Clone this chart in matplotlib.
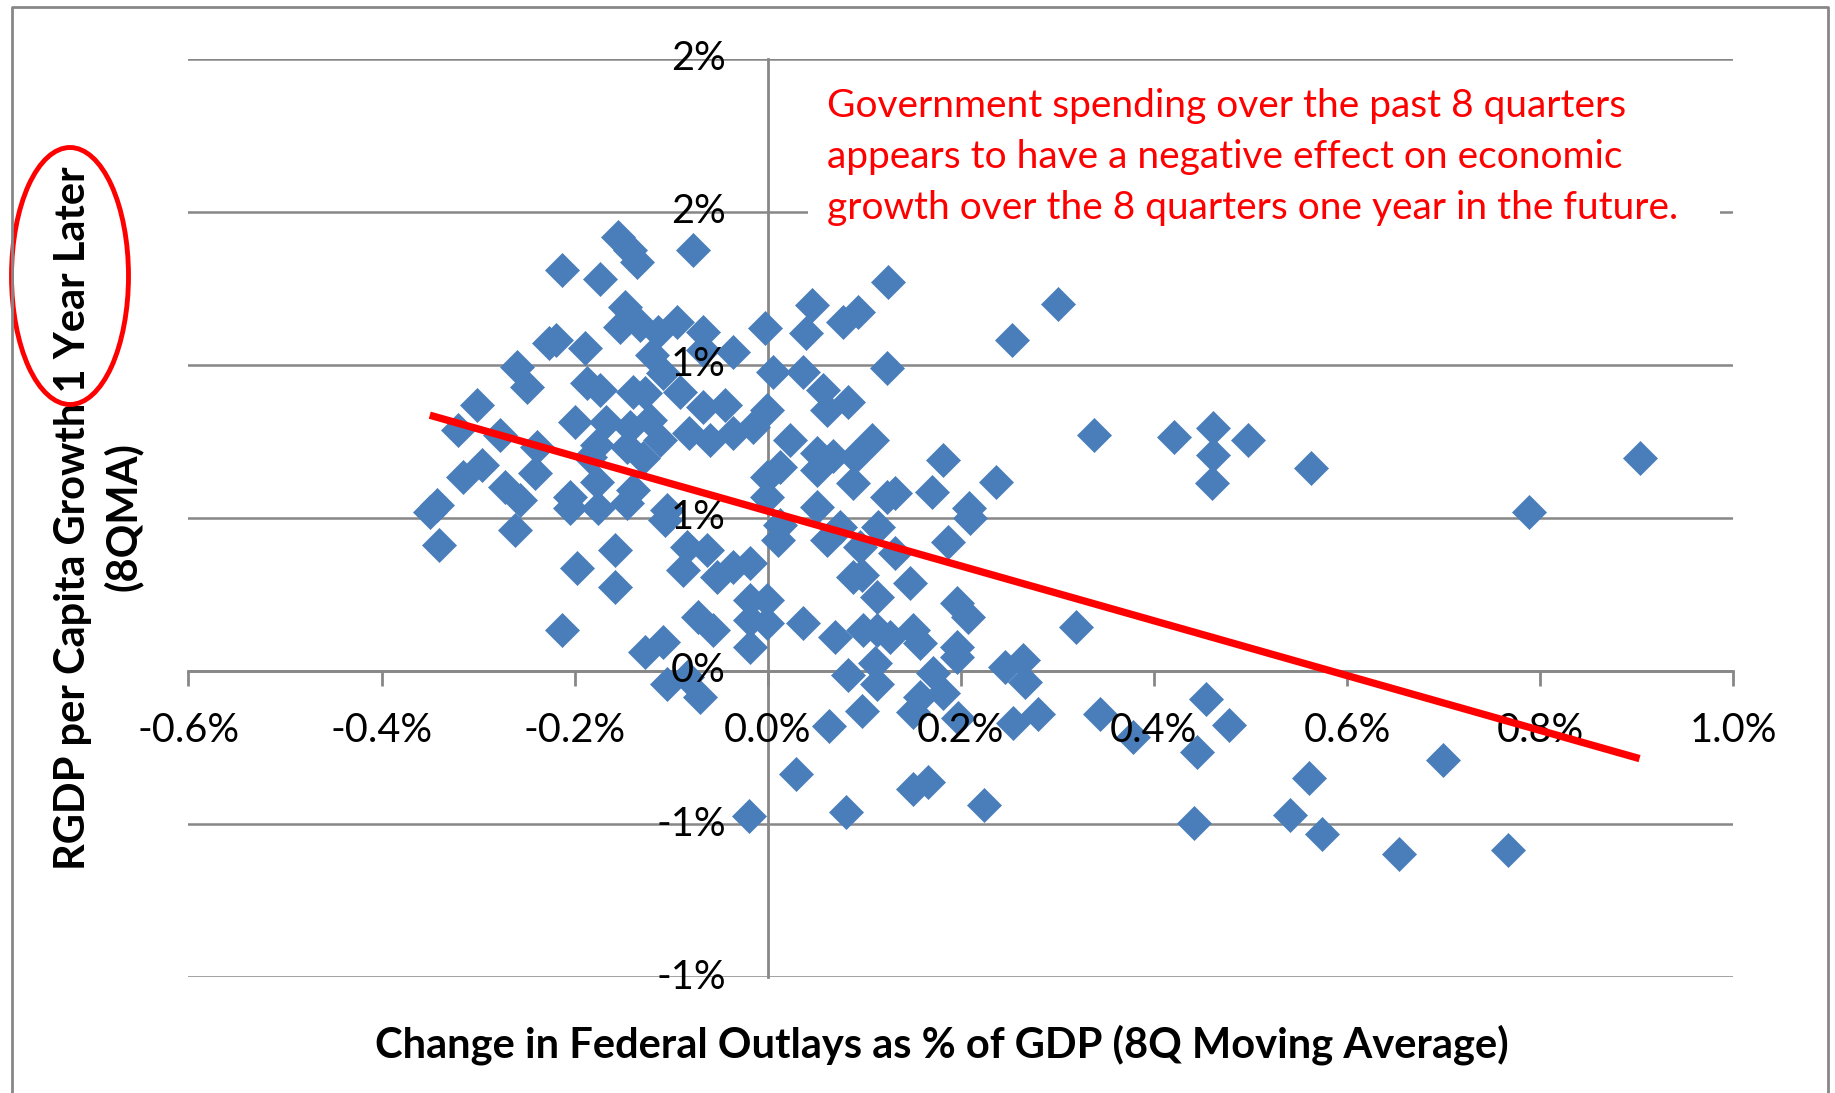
import numpy as np
import matplotlib
matplotlib.use('Agg')
import matplotlib.pyplot as plt
from matplotlib.patches import Ellipse, Rectangle
from matplotlib.lines import Line2D

# ---- data (percent units) ----
x_vals = [-0.155, -0.143, -0.135, -0.077, -0.213, -0.174, -0.148, -0.153, -0.132, -0.114,
          -0.094, -0.067, -0.120, -0.067, -0.226, -0.219, -0.189, -0.260, -0.249, -0.108,
          -0.091, -0.187, -0.174, -0.140, -0.127, -0.301, -0.321, -0.277, -0.239, -0.200,
          -0.167, -0.143, -0.122, -0.067, -0.177, -0.146, -0.112, -0.081, -0.060, -0.296,
          -0.316, -0.241, -0.272, -0.257, -0.342, -0.350, -0.340, -0.262, -0.205, -0.205,
          -0.177, -0.176, -0.184, -0.146, -0.140, -0.129, -0.104, -0.106, -0.084, -0.063,
          -0.088, -0.158, -0.198, -0.158, -0.213, -0.072, -0.057, -0.108, -0.127, -0.104,
          -0.084, -0.070, -0.053, 0.125, 0.046, 0.094, 0.078, -0.003, 0.040, 0.253,
          -0.036, 0.005, 0.037, 0.057, 0.083, 0.061, 0.124, -0.001, -0.044, -0.015,
          -0.036, 0.023, 0.108, 0.182, 0.051, 0.068, 0.090, 0.236, 0.170, 0.208,
          0.210, 0.187, 0.124, 0.132, 0.114, 0.132, 0.147, 0.088, 0.098, 0.113,
          0.196, 0.207, 0.151, 0.158, 0.196, 0.196, 0.113, 0.099, 0.127, 0.070,
          0.037, -0.001, -0.018, -0.001, -0.018, -0.018, 0.111, 0.083, 0.113, 0.171,
          0.246, 0.158, 0.182, -0.036, -0.018, 0.011, 0.013, -0.001, -0.001, 0.013,
          0.051, 0.088, 0.051, 0.061, 0.096, 0.075, 0.301, 0.338, 0.421, 0.461,
          0.497, 0.461, 0.460, 0.563, 0.789, 0.903, 0.344, 0.378, 0.454, 0.478,
          0.445, 0.561, 0.442, 0.541, 0.574, 0.654, 0.699, 0.767, 0.064, 0.098,
          0.029, -0.019, 0.081, 0.150, 0.166, 0.224, 0.151, 0.197, 0.254, 0.280,
          0.267, 0.264, 0.319]
y_vals = [1.417, 1.374, 1.335, 1.374, 1.309, 1.280, 1.188, 1.123, 1.129, 1.107,
          1.139, 1.107, 1.031, 1.048, 1.071, 1.080, 1.054, 0.992, 0.927, 0.973,
          0.910, 0.940, 0.917, 0.910, 0.907, 0.868, 0.786, 0.770, 0.731, 0.812,
          0.812, 0.796, 0.819, 0.861, 0.737, 0.731, 0.754, 0.776, 0.754, 0.672,
          0.633, 0.646, 0.600, 0.558, 0.541, 0.518, 0.410, 0.459, 0.567, 0.531,
          0.616, 0.531, 0.698, 0.548, 0.590, 0.695, 0.525, 0.492, 0.404, 0.394,
          0.329, 0.394, 0.335, 0.273, 0.133, 0.175, 0.133, 0.093, 0.061, -0.041,
          -0.021, -0.086, 0.306, 1.270, 1.195, 1.172, 1.139, 1.120, 1.103, 1.080,
          1.041, 0.976, 0.976, 0.917, 0.878, 0.852, 0.989, 0.852, 0.868, 0.796,
          0.776, 0.754, 0.754, 0.688, 0.711, 0.701, 0.698, 0.616, 0.584, 0.531,
          0.499, 0.420, 0.567, 0.580, 0.469, 0.384, 0.286, 0.306, 0.312, 0.241,
          0.221, 0.175, 0.133, 0.090, 0.077, 0.044, 0.133, 0.133, 0.110, 0.110,
          0.156, 0.156, 0.165, 0.231, 0.231, 0.077, 0.025, -0.014, -0.041, -0.008,
          0.012, -0.086, -0.073, 0.339, 0.352, 0.427, 0.476, 0.567, 0.633, 0.665,
          0.656, 0.613, 0.535, 0.427, 0.404, 0.469, 1.198, 0.770, 0.763, 0.793,
          0.754, 0.705, 0.613, 0.662, 0.518, 0.695, -0.139, -0.217, -0.093, -0.175,
          -0.263, -0.348, -0.495, -0.469, -0.531, -0.599, -0.292, -0.586, -0.181, -0.132,
          -0.338, -0.475, -0.459, -0.387, -0.361, -0.439, -0.135, -0.155, -0.171, -0.139,
          -0.037, 0.035, 0.142]

trend_slope = -0.895
trend_intercept = 0.522

x_ticks = [-0.6, -0.4, -0.2, 0.0, 0.2, 0.4, 0.6, 0.8, 1.0]
x_tick_labels = ['-0.6%', '-0.4%', '-0.2%', '0.0%', '0.2%', '0.4%', '0.6%', '0.8%', '1.0%']
y_ticks = [-1.0, -0.5, 0.0, 0.5, 1.0, 1.5, 2.0]
y_tick_labels = ['-1%', '-1%', '0%', '1%', '1%', '2%', '2%']

note_lines = ['Government spending over the past 8 quarters',
              'appears to have a negative effect on economic',
              'growth over the 8 quarters one year in the future.']
x_label = 'Change in Federal Outlays as % of GDP (8Q Moving Average)'
y_label_1 = 'RGDP per Capita Growth 1 Year Later'
y_label_2 = '(8QMA)'

# ---- style ----
FONT = ['Lato', 'DejaVu Sans']
plt.rcParams['font.family'] = FONT
GRAY = '#878787'
BLUE = '#4A7EBB'
W, H = 1835, 1093
TICK_FS = 28.5

fig = plt.figure(figsize=(W / 100, H / 100), dpi=100)
fig.patch.set_facecolor('white')

def fx(px):
    return px / W

def fy(py):
    return 1 - py / H

ax = fig.add_axes([fx(188.4), fy(977.2), fx(1733.2) - fx(188.4), fy(58.5) - fy(977.2)])
ax.set_xlim(-0.6, 1.0)
ax.set_ylim(-1.0, 2.0)
ax.patch.set_alpha(0)

for s in ['top', 'right']:
    ax.spines[s].set_visible(False)
ax.spines['left'].set_position(('data', 0))
ax.spines['bottom'].set_position(('data', 0))
for s in ['left', 'bottom']:
    ax.spines[s].set_color(GRAY)
    ax.spines[s].set_linewidth(2.0)

ax.set_xticks(x_ticks)
ax.set_yticks(y_ticks)
ax.tick_params(axis='x', direction='out', length=11, width=2, color=GRAY,
               labelbottom=False)
ax.tick_params(axis='y', length=0, labelleft=False)
ax.yaxis.grid(True, color=GRAY, linewidth=1.8)
ax.set_axisbelow(True)

# tick labels drawn above the markers but below the trend line
for xt, lab in zip(x_ticks, x_tick_labels):
    ax.annotate(lab, xy=(xt, 0), xytext=(0, -42.8), textcoords='offset points',
                ha='center', va='center', fontsize=TICK_FS, zorder=3.5,
                annotation_clip=False)
for yt, lab in zip(y_ticks, y_tick_labels):
    ax.annotate(lab, xy=(0, yt), xytext=(-30, 0), textcoords='offset points',
                ha='right', va='center', fontsize=TICK_FS, zorder=3.5,
                annotation_clip=False)

ax.plot(x_vals, y_vals, linestyle='none', marker='D', markersize=17.5,
        color=BLUE, markeredgecolor=BLUE, markeredgewidth=0.5, zorder=3)

tx = np.array([min(x_vals), max(x_vals)])
ax.plot(tx, trend_slope * tx + trend_intercept, color='#FF0000', linewidth=5.3,
        solid_capstyle='butt', zorder=4)

# white text box covering gridline
fig.patches.append(Rectangle((fx(808), fy(236)), fx(1720) - fx(808), fy(78) - fy(236),
                             transform=fig.transFigure, facecolor='white',
                             edgecolor='none', zorder=5))
for i, line in enumerate(note_lines):
    fig.text(fx(827), fy(106 + 51 * i), line, color='#FF0000', fontsize=28,
             ha='left', va='center', zorder=6)

fig.text(fx(942), fy(1045), x_label, fontsize=30, fontweight='bold',
         ha='center', va='center')
fig.text(fx(72.6), fy(518), y_label_1, fontsize=30, fontweight='bold',
         rotation=90, ha='center', va='center')
fig.text(fx(123), fy(517), y_label_2, fontsize=30, fontweight='bold',
         rotation=90, ha='center', va='center')

fig.patches.append(Ellipse((fx(70), fy(276)), 117 / W, 257 / H, transform=fig.transFigure,
                           fill=False, edgecolor='#FF0000', linewidth=3.5, zorder=7))

# outer chart frame (top, left, right)
fig.lines.append(Line2D([fx(12), fx(12), fx(1828), fx(1828)],
                        [fy(1093), fy(7), fy(7), fy(1093)],
                        transform=fig.transFigure, color=GRAY, linewidth=2.0, zorder=8))

fig.savefig('out.png', dpi=100)
